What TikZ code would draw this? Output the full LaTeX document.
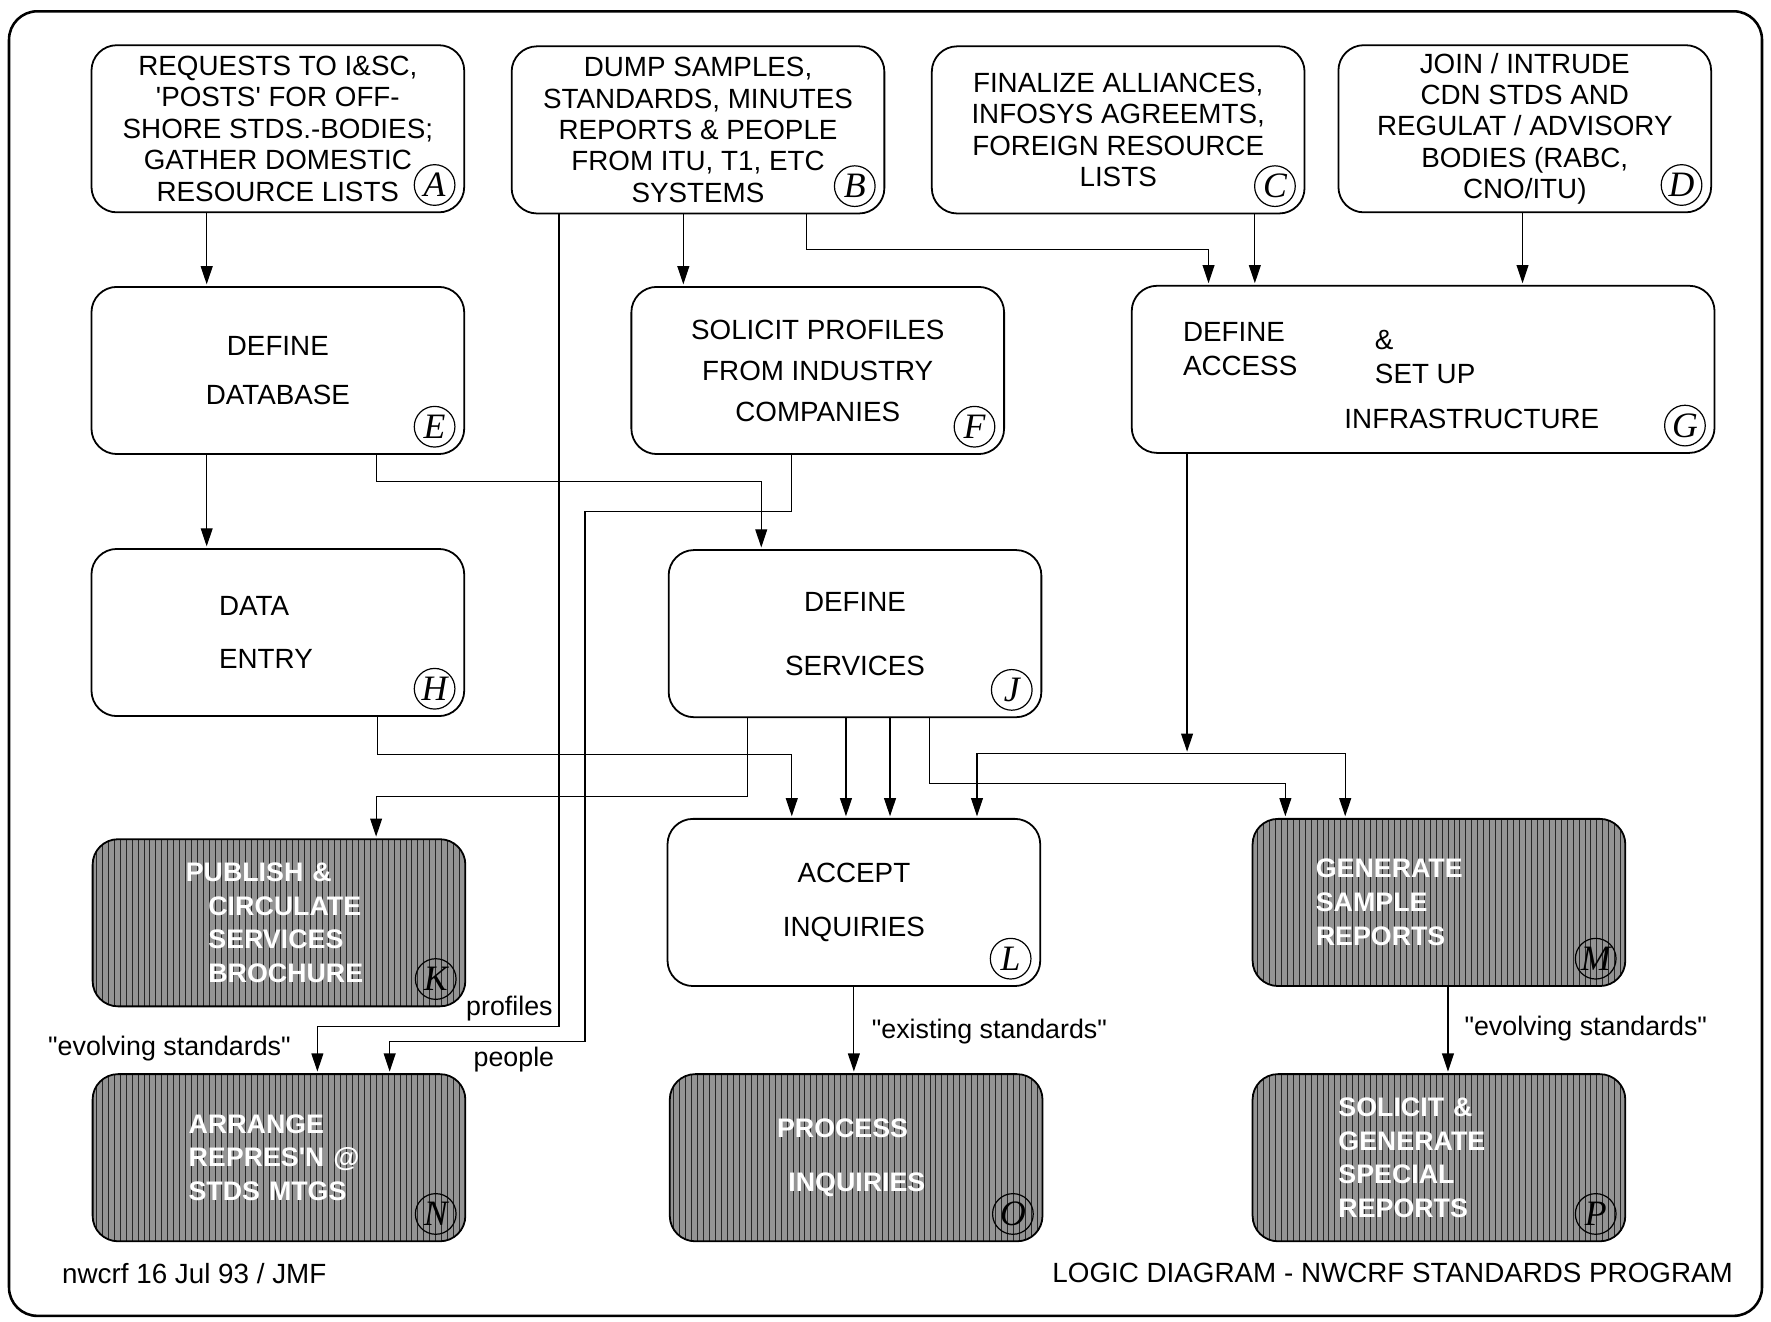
\documentclass[tikz,border=0pt]{standalone}
\usepackage{fontspec}
\setmainfont{Liberation Sans}
\newfontfamily\tagserif{Liberation Serif}
\usepackage{tikz}
\usetikzlibrary{shapes,arrows.meta,positioning,calc,patterns}

\begin{document}
\begin{tikzpicture}[
    x=0.2mm, y=-0.2mm,
    task/.style={rectangle, rounded corners=4.5mm, draw, line width=0.9pt, minimum width=66mm, minimum height=29.6mm, inner sep=0pt, align=center, font=\fontsize{14}{15.8}\selectfont},
    output/.style={task, preaction={fill=black!42}, pattern=vertical lines, pattern color=black!85, text=white, font=\fontsize{13.5}{17}\selectfont\bfseries},
    tagmark/.style={circle, draw, line width=0.6pt, minimum size=7.2mm, inner sep=0pt, font=\tagserif\itshape\fontsize{18}{18}\selectfont},
    caption/.style={inner sep=0pt, align=left, font=\fontsize{14}{15.8}\selectfont},
    note/.style={inner sep=0pt, font=\fontsize{13.5}{15}\selectfont},
    flow/.style={line width=0.6pt, -{Triangle[length=3.2mm, width=2.1mm]}, shorten >=0.3mm}
]
    \useasboundingbox (0,0) rectangle (1568,1170);
    \draw[line width=1.3pt, rounded corners=5mm] (8,10) rectangle (1560,1165);

    % Sources
    \node[task] (requests) at (246,114) {REQUESTS TO I\&SC,\\\textquotesingle POSTS\textquotesingle\ FOR OFF-\\SHORE STDS.-BODIES;\\GATHER DOMESTIC\\RESOURCE LISTS};
    \node[task] (dump) at (618,115) {DUMP SAMPLES,\\STANDARDS, MINUTES\\REPORTS \& PEOPLE\\FROM ITU, T1, ETC\\SYSTEMS};
    \node[task] (finalize) at (990,115) {FINALIZE ALLIANCES,\\INFOSYS AGREEMTS,\\FOREIGN RESOURCE\\LISTS};
    \node[task] (join) at (1350,114) {JOIN / INTRUDE\\CDN STDS AND\\REGULAT / ADVISORY\\BODIES (RABC,\\CNO/ITU)};

    % Set-up work
    \node[task] (database) at (246,328) {DEFINE\\[3mm]DATABASE};
    \node[task] (solicit) at (724,328) {SOLICIT PROFILES\\[1.7mm]FROM INDUSTRY\\[1.7mm]COMPANIES};
    \node[task, minimum width=103.2mm] (access) at (1260,327) {};
    \node[caption] (access-define) at (1098,309) {DEFINE\\[0.4mm]ACCESS};
    \node[caption, anchor=west] (access-setup) at (1217,316) {\&\\[0.6mm]SET UP};
    \node[caption, anchor=west] (access-infra) at (1190,371) {INFRASTRUCTURE};

    \node[task, align=left, text width=20.8mm] (entry) at (246,560) {DATA\\[3.8mm]ENTRY};
    \node[task] (services) at (757,561) {DEFINE\\[5.8mm]SERVICES};

    % Deliverables
    \node[output, align=left, text width=33mm] (publish) at (247,817) {PUBLISH \&\\ \hspace*{4mm}CIRCULATE\\ \hspace*{4mm}SERVICES\\ \hspace*{4mm}BROCHURE};
    \node[task] (accept) at (756,799) {ACCEPT\\[4mm]INQUIRIES};
    \node[output, align=left, text width=43.6mm] (sample) at (1274,799) {GENERATE\\SAMPLE\\REPORTS};
    \node[output, align=left, text width=32mm] (arrange) at (247,1025) {ARRANGE\\REPRES\textquotesingle N @\\STDS MTGS};
    \node[output, align=left, text width=28mm] (process) at (758,1025) {PROCESS\\[3.6mm]\hspace*{2mm}\mbox{INQUIRIES}};
    \node[output, align=left, text width=35.6mm] (special) at (1274,1025) {SOLICIT \&\\GENERATE\\SPECIAL\\REPORTS};

    \foreach \bx/\lt in {requests/A, dump/B, finalize/C, join/D, database/E, solicit/F, access/G, entry/H, services/J, publish/K, accept/L, sample/M, arrange/N, process/O, special/P}
        \node[tagmark] (tag\lt) at ($(\bx.south east)+(-27,-25)$) {\lt};

    % Flows
    \draw[flow] (183,0 |- requests.south) -- (183,0 |- database.north);
    \draw[flow] (605,0 |- dump.south) -- (605,0 |- solicit.north);
    \draw[flow] (714,0 |- dump.south) -- (714,221) -| (1070,0 |- access.north);
    \draw[flow] (1111,0 |- finalize.south) -- (1111,0 |- access.north);
    \draw[flow] (1348,0 |- join.south) -- (1348,0 |- access.north);
    \draw[flow] (183,0 |- database.south) -- (183,0 |- entry.north);
    \draw[flow] (333,0 |- database.south) -- (333,426) -| (674,0 |- services.north);
    \draw[flow] (495,0 |- dump.south) -- (495,909) -| (281,0 |- arrange.north);
    \draw[flow] (701,0 |- solicit.south) -- (701,453) -| (518,922) -| (345,0 |- arrange.north);
    \draw[flow] (334,0 |- entry.south) -- (334,668) -| (701,0 |- accept.north);
    \draw[flow] (662,0 |- services.south) -- (662,705) -| (333,0 |- publish.north);
    \draw[flow] (749,0 |- services.south) -- (749,0 |- accept.north);
    \draw[flow] (788,0 |- services.south) -- (788,0 |- accept.north);
    \draw[flow] (823,0 |- services.south) -- (823,694) -| (1138,0 |- sample.north);
    \draw[flow] (1051,0 |- access.south) -- (1051,667) coordinate (fork);
    \draw[flow] (fork) -| (865,0 |- accept.north);
    \draw[flow] (fork) -| (1191,0 |- sample.north);
    \draw[flow] (756,0 |- accept.south) -- (756,0 |- process.north);
    \draw[flow] (1282,0 |- sample.south) -- (1282,0 |- special.north);

    % Labels
    \node[note] (profiles) at (451,893) {profiles};
    \node[note] (people) at (455,938) {people};
    \node[note] (evolving-left) at (150,928) {\textquotedbl evolving standards\textquotedbl};
    \node[note] (existing) at (876,913) {\textquotedbl existing standards\textquotedbl};
    \node[note] (evolving-right) at (1404,911) {\textquotedbl evolving standards\textquotedbl};
    \node[note, font=\fontsize{14}{16}\selectfont] (stamp) at (172,1128) {nwcrf 16 Jul 93 / JMF};
    \node[note, font=\fontsize{14}{16}\selectfont] (title) at (1233,1127) {LOGIC DIAGRAM - NWCRF STANDARDS PROGRAM};
\end{tikzpicture}
\end{document}
